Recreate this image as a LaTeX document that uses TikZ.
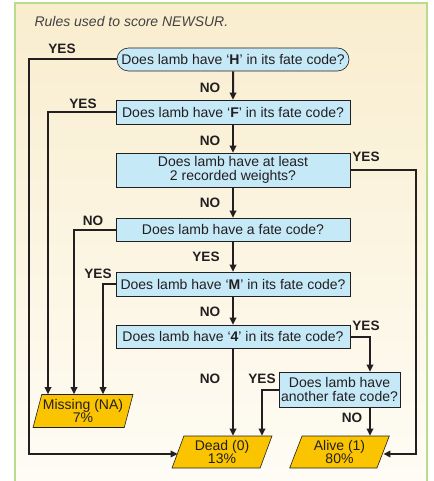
\documentclass[tikz,border=0pt]{standalone}
\usepackage{fontspec}
\setmainfont{Liberation Sans}
\usetikzlibrary{arrows.meta,shapes.misc,shapes.geometric,positioning}
\definecolor{qfill}{HTML}{C6E9F8}
\definecolor{ofill}{HTML}{FAC500}
\definecolor{frameg}{HTML}{B9DB8E}
\definecolor{bgtop}{HTML}{F9EDCE}
\definecolor{bgbot}{HTML}{FEFCF5}
\definecolor{ink}{HTML}{231F20}
\tikzset{
  question/.style={draw=ink, line width=0.6pt, fill=qfill, text=ink,
    minimum width=234pt, minimum height=24pt, inner sep=1pt, align=center,
    font=\fontsize{14}{14}\selectfont},
  outcome/.style={trapezium, trapezium left angle=70, trapezium right angle=110,
    trapezium stretches=true, draw=ink, line width=0.6pt, fill=ofill, text=ink,
    minimum width=100pt, minimum height=33pt, inner sep=0pt, align=center,
    font=\fontsize{14}{13}\selectfont},
  flow/.style={draw=ink, line width=2pt, -{Triangle[length=7pt,width=6.5pt]}},
  tag/.style={text=ink, inner sep=0pt, font=\bfseries\fontsize{13.6}{13}\selectfont}
}
\begin{document}
\begin{tikzpicture}[x=1pt, y=-1pt]
  \useasboundingbox (0,0) rectangle (433,481);
  \draw[frameg, line width=1.5pt, top color=bgtop, bottom color=bgbot] (15,3) rectangle (427,484);
  \node[anchor=west, text=ink!85, font=\itshape\fontsize{14}{14}\selectfont] (title) at (31,22) {Rules used to score NEWSUR.};

  % questions
  \node[question, rounded rectangle, minimum height=23pt] (q1) at (233,59.5) {Does lamb have ‘\textbf{H}’ in its fate code?};
  \node[question] (q2) at (233,112) {Does lamb have ‘\textbf{F}’ in its fate code?};
  \node[question, minimum height=34pt] (q3) at (233,170) {Does lamb have at least\\2 recorded weights?};
  \node[question, minimum height=23pt] (q4) at (233,229.5) {Does lamb have a fate code?};
  \node[question] (q5) at (233,284) {Does lamb have ‘\textbf{M}’ in its fate code?};
  \node[question, minimum height=23pt] (q6) at (233,336.5) {Does lamb have ‘\textbf{4}’ in its fate code?};
  \node[question, minimum width=121pt, minimum height=35pt] (q7) at (339.5,389.5) {Does lamb have\\another fate code?};

  % outcomes
  \node[outcome] (missing) at (83,411) {Missing (NA)\\7\%};
  \node[outcome, minimum height=32pt] (dead) at (222,452) {Dead (0)\\13\%};
  \node[outcome, minimum height=32pt] (alive) at (339.5,452) {Alive (1)\\80\%};

  % main line
  \draw[flow] (q1) -- (q2);
  \draw[flow] (q2) -- (q3);
  \draw[flow] (q3) -- (q4);
  \draw[flow] (q4) -- (q5);
  \draw[flow] (q5) -- (q6);
  \draw[flow] (q6.south) -- (q6.south |- dead.north);

  % side branches
  \draw[flow] (q1.west) -- ++(-88,0) |- ([yshift=-2pt]dead.west);
  \draw[flow] (q2.west) -| ([xshift=-35pt]missing.north);
  \draw[flow] (q4.west) -| ([xshift=-9pt]missing.north);
  \draw[flow] (q5.west) -| ([xshift=20pt]missing.north);
  \draw[flow] (q3.east) -- ++(66,0) |- ([yshift=-2pt]alive.east);
  \draw[flow] (q6.east) -| ([xshift=30.5pt]q7.north);
  \draw[flow] ([xshift=30.5pt]q7.south) -- ([xshift=30.5pt]q7.south |- alive.north);
  \draw[flow] (q7.west) -| ([xshift=40pt]dead.north);

  % labels
  \node[tag] (y1) at (62,49) {YES};
  \node[tag] (n1) at (210,88) {NO};
  \node[tag] (y2) at (83,104) {YES};
  \node[tag] (n2) at (210,141) {NO};
  \node[tag] (y3) at (366,157) {YES};
  \node[tag] (n3) at (210,203) {NO};
  \node[tag] (n4) at (93,221) {NO};
  \node[tag] (y4) at (206,257) {YES};
  \node[tag] (y5) at (98,274) {YES};
  \node[tag] (n5) at (210,312) {NO};
  \node[tag] (y6) at (366,326) {YES};
  \node[tag] (n6) at (210,379) {NO};
  \node[tag] (y7) at (262,379) {YES};
  \node[tag] (n7) at (352,418) {NO};
\end{tikzpicture}
\end{document}
